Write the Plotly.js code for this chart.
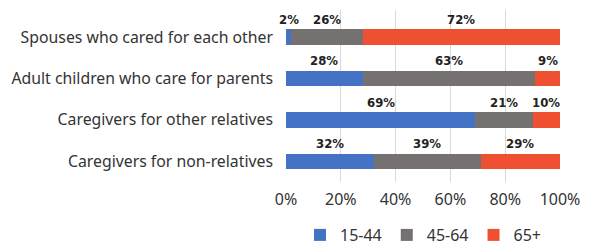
<!DOCTYPE html>
<html><head><meta charset="utf-8">
<script src="https://cdn.plot.ly/plotly-3.0.1.min.js"></script>
<style>html,body{margin:0;padding:0;background:#fff}</style>
</head><body><div id="chart" style="width:589px;height:250px"></div>
<script>
const categories = ["Spouses who cared for each other","Adult children who care for parents","Caregivers for other relatives","Caregivers for non-relatives"];
const seriesNames = ["15-44","45-64","65+"];
const age15_44 = [2,28,69,32];
const age45_64 = [26,63,21,39];
const age65plus = [72,9,10,29];
const tickVals = [0,20,40,60,80,100];
const tickText = ["0%","20%","40%","60%","80%","100%"];

const colors = ["#4472c4","#767171","#f05032"];
const allSeries = [age15_44, age45_64, age65plus];
const traces = allSeries.map((vals,i)=>({
  type:"bar", orientation:"h", name:seriesNames[i], x:vals, y:categories,
  marker:{color:colors[i]}, hoverinfo:"skip"
}));
const annotations = [];
categories.forEach((c,j)=>{
  let cum = 0;
  allSeries.forEach((vals)=>{
    const v = vals[j];
    annotations.push({x:cum+v/2, y:c, xref:"x", yref:"y", text:v+"%", showarrow:false,
      yanchor:"bottom", yshift:8, font:{family:"DejaVu Sans Condensed, Roboto, sans-serif", size:13, color:"#222", weight:"bold"}});
    cum += v;
  });
});
const layout = {
  width:589, height:250, barmode:"stack", bargap:0.63,
  margin:{l:286, r:29, t:10, b:68, autoexpand:false},
  paper_bgcolor:"#fff", plot_bgcolor:"#fff",
  font:{family:"Noto Sans", size:15.8, color:"#333"},
  xaxis:{range:[0,100], tickvals:tickVals, ticktext:tickText, showgrid:true, gridcolor:"#d9d9d9", gridwidth:1,
    zeroline:false, showline:false, ticks:"", ticklabelstandoff:6, fixedrange:true, tickfont:{size:16}},
  yaxis:{categoryorder:"array", categoryarray:categories.slice().reverse(), ticks:"", ticklabelstandoff:12, showline:false, fixedrange:true},
  showlegend:true,
  legend:{orientation:"h", x:0.5, xanchor:"center", yref:"container", y:0.06, yanchor:"middle", traceorder:"normal", font:{size:16}, itemwidth:30},
  annotations:annotations
};
Plotly.newPlot("chart", traces, layout, {displayModeBar:false, staticPlot:true});
</script></body></html>
